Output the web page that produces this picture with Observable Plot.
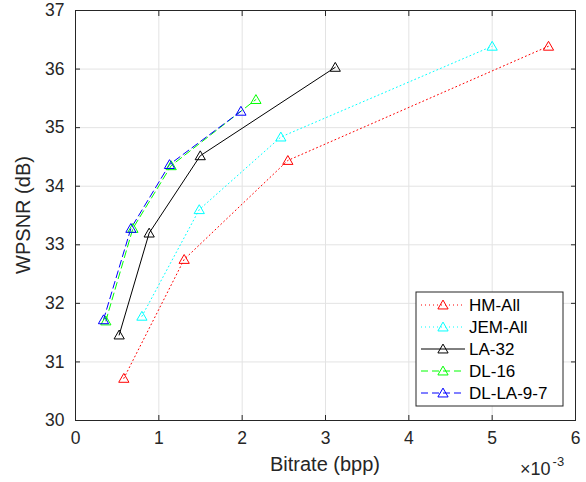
<!DOCTYPE html>
<html>
<head>
<meta charset="utf-8">
<script src="https://cdn.jsdelivr.net/npm/d3@7"></script>
<script src="https://cdn.jsdelivr.net/npm/@observablehq/plot@0.6"></script>
<style>
  html, body { margin: 0; padding: 0; background: #fff; }
  #chart { position: relative; width: 586px; height: 482px; }
  svg { font-family: "Liberation Sans", Arial, Helvetica, sans-serif; }
</style>
</head>
<body>
<div id="chart"></div>
<script>
// Bitrate values are in units of 1e-3 bpp
const seriesNames = ["HM-All", "JEM-All", "LA-32", "DL-16", "DL-LA-9-7"];
const hmBitrate  = [0.580, 1.304, 2.548, 5.676];
const hmWpsnr    = [30.72, 32.75, 34.44, 36.39];
const jemBitrate = [0.797, 1.485, 2.464, 5.000];
const jemWpsnr   = [31.78, 33.60, 34.84, 36.39];
const laBitrate  = [0.524, 0.884, 1.497, 3.117];
const laWpsnr    = [31.46, 33.20, 34.52, 36.03];
const dl16Bitrate = [0.364, 0.689, 1.148, 2.165];
const dl16Wpsnr   = [31.70, 33.28, 34.35, 35.48];
const dlLaBitrate = [0.336, 0.665, 1.128, 1.985];
const dlLaWpsnr   = [31.72, 33.28, 34.37, 35.28];
const xTicks = [0, 1, 2, 3, 4, 5, 6];
const yTicks = [30, 31, 32, 33, 34, 35, 36, 37];

const colors = ["#ff0000", "#00ffff", "#000000", "#00ff00", "#0000ff"];
const dashes = ["1,3", "1,3", null, "7,4", "7,4"];

const bitrates = [hmBitrate, jemBitrate, laBitrate, dl16Bitrate, dlLaBitrate];
const wpsnrs = [hmWpsnr, jemWpsnr, laWpsnr, dl16Wpsnr, dlLaWpsnr];
const series = seriesNames.map((name, i) => ({
  name, color: colors[i], dash: dashes[i],
  points: bitrates[i].map((b, j) => ({x: b, y: wpsnrs[i][j]}))
}));

const W = 586, H = 482, mL = 75, mR = 11, mT = 10, mB = 62;
const axisColor = "#262626";
const noLabel = () => "";

const marks = [
  Plot.gridX(xTicks.slice(1, -1), {stroke: "#e3e3e3", strokeOpacity: 1}),
  Plot.gridY(yTicks.slice(1, -1), {stroke: "#e3e3e3", strokeOpacity: 1}),
];
for (const s of series) {
  marks.push(Plot.line(s.points, {x: "x", y: "y", stroke: s.color, strokeWidth: 1, strokeDasharray: s.dash}));
}
for (const s of series) {
  marks.push(Plot.dot(s.points, {x: "x", y: "y", symbol: "triangle", r: 3.8, stroke: s.color, fill: "none", strokeWidth: 1, dy: 1}));
}
marks.push(
  Plot.axisX(xTicks, {anchor: "bottom", tickSize: -5, tickPadding: 16, fontSize: 17.5, color: axisColor, tickFormat: d3.format("d"), label: null}),
  Plot.axisX(xTicks, {anchor: "top", tickSize: -5, tickFormat: noLabel, color: axisColor, label: null}),
  Plot.axisY(yTicks, {anchor: "left", tickSize: -5, tickPadding: 16, fontSize: 17.5, color: axisColor, tickFormat: d3.format("d"), label: null}),
  Plot.axisY(yTicks, {anchor: "right", tickSize: -5, tickFormat: noLabel, color: axisColor, label: null}),
  Plot.frame({stroke: axisColor})
);

const plot = Plot.plot({
  width: W, height: H,
  marginLeft: mL, marginRight: mR, marginTop: mT, marginBottom: mB,
  x: {domain: [0, 6]},
  y: {domain: [30, 37]},
  style: {fontFamily: '"Liberation Sans", Arial, sans-serif', fontSize: "17.5px", background: "#fff"},
  marks
});
document.getElementById("chart").appendChild(plot);

const svg = d3.select(plot);
// axis labels
svg.append("text")
  .attr("x", mL + (W - mL - mR) / 2).attr("y", 471)
  .attr("text-anchor", "middle").attr("font-size", 20).attr("fill", axisColor)
  .text("Bitrate (bpp)");
svg.append("text")
  .attr("transform", `translate(30,${mT + (H - mT - mB) / 2}) rotate(-90)`)
  .attr("text-anchor", "middle").attr("font-size", 20).attr("fill", axisColor)
  .text("WPSNR (dB)");
// exponent
const ex = svg.append("text").attr("x", 520).attr("y", 475).attr("text-anchor", "start")
  .attr("font-size", 18).attr("fill", axisColor);
ex.append("tspan").text("×10");
ex.append("tspan").attr("font-size", 13).attr("dx", 2).attr("dy", -9).text("-3");

// legend
const lg = svg.append("g").attr("text-anchor", "start");
const lx = 416, ly = 292, lw = 147, lh = 114;
lg.append("rect").attr("x", lx).attr("y", ly).attr("width", lw).attr("height", lh)
  .attr("fill", "#fff").attr("stroke", axisColor).attr("stroke-width", 1);
const rowY = [305, 327, 349, 371, 393];
series.forEach((s, i) => {
  const y = rowY[i];
  lg.append("line").attr("x1", 421).attr("x2", 465).attr("y1", y).attr("y2", y)
    .attr("stroke", s.color).attr("stroke-width", 1).attr("stroke-dasharray", s.dash);
  lg.append("path").attr("d", d3.symbol(d3.symbolTriangle, Math.PI * 3.8 * 3.8)())
    .attr("transform", `translate(443,${y + 1})`)
    .attr("fill", "none").attr("stroke", s.color).attr("stroke-width", 1);
  lg.append("text").attr("x", 469).attr("y", y).attr("dy", "0.35em").attr("text-anchor", "start")
    .attr("font-size", 17).attr("fill", "#000").text(s.name);
});
</script>
</body>
</html>
